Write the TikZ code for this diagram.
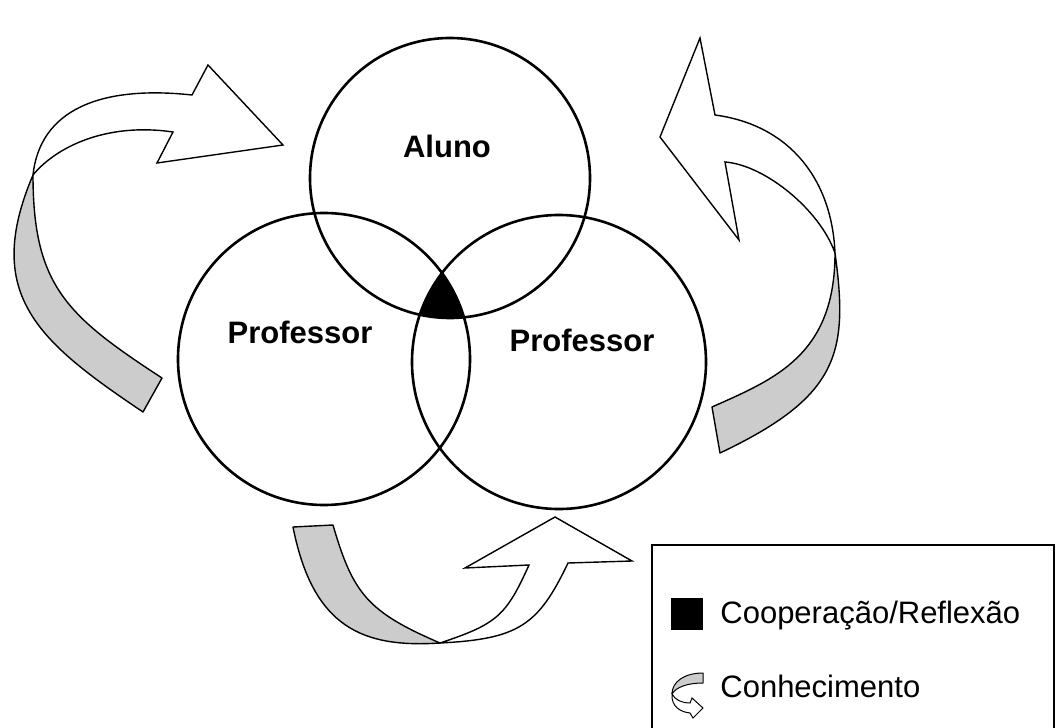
\documentclass[tikz,border=0pt]{standalone}
\usepackage{fontspec}
\setmainfont{Liberation Sans}
\usetikzlibrary{positioning}
\definecolor{bandgray}{RGB}{204,204,204}

\begin{document}
\begin{tikzpicture}[x=0.5pt, y=-0.5pt, font=\fontsize{15.5}{18}\selectfont,
    circ/.style={draw, circle, line width=1.3pt, inner sep=0pt},
    band/.style={draw, fill=bandgray, line width=0.7pt, line join=round},
    arrowbody/.style={draw, fill=white, line width=0.7pt},
    lbl/.style={anchor=base, font=\fontsize{15.5}{18}\selectfont\bfseries}]
        \useasboundingbox (0,0) rectangle (1056,728);

        \node[circ, minimum size=140pt] (aluno) at (450,178) {};
        \node[circ, minimum size=146pt] (profL) at (324,359) {};
        \node[circ, minimum size=147pt] (profR) at (559,362) {};

        \begin{scope}
            \clip (aluno.center) circle (70pt);
            \clip (profL.center) circle (73pt);
            \fill (profR.center) circle (73.5pt);
        \end{scope}

        \node[lbl] (tAluno) at (447,157) {Aluno};
        \node[lbl] (tProfL) at (300,343) {Professor};
        \node[lbl] (tProfR) at (582,351) {Professor};

        \draw[band] (33,175) .. controls (-18,295) and (39,342) .. (143,412) -- (162,378) .. controls (67,316) and (33,286) .. (33,175) -- cycle;
        \draw[arrowbody] (33,175) .. controls (40,110) and (100,85) .. (192,95) -- (208,65) -- (283,145) -- (157,163) -- (173,132) .. controls (105,122) and (55,148) .. (33,175) -- cycle;

        \draw[band] (835,253) .. controls (849,354) and (838,397) .. (720,453) -- (712,407) .. controls (775,379) and (835,355) .. (835,253) -- cycle;
        \draw[arrowbody] (835,253) .. controls (832,180) and (790,125) .. (715,115) -- (700,38) -- (660,137) -- (739,240) -- (725,162) .. controls (765,165) and (820,210) .. (835,253) -- cycle;

        \draw[band] (440,643) .. controls (363,648) and (313,628) .. (293,527) -- (333,525) .. controls (353,594) and (368,612) .. (440,643) -- cycle;
        \draw[arrowbody] (440,643) .. controls (518,639) and (538,626) .. (568,563) -- (632,561) -- (555,517) -- (465,568) -- (529,565) .. controls (506,616) and (497,624) .. (440,643) -- cycle;

        \node[draw, line width=0.7pt, minimum width=201pt, minimum height=97.5pt] (legend) at (853,642.5) {};
        \node[fill=black, minimum size=16pt, inner sep=0pt] (sqCoop) at (686.5,614) {};
        \node[anchor=base west, inner sep=0pt] (tCoop) at (720,623) {Cooperação/Reflexão};
        \node[anchor=base west, inner sep=0pt] (tConh) at (720,697) {Conhecimento};

        \draw[band, line width=0.5pt] (703,673) .. controls (684,673) and (672,682) .. (672,694) .. controls (676,687) and (688,683) .. (703,683) -- cycle;
        \draw[arrowbody, line width=0.5pt] (672,694) .. controls (671,706) and (680,712) .. (690,713) -- (693,718) -- (703,708) -- (692,698) -- (690,703) .. controls (682,703) and (675,700) .. (672,694) -- cycle;
    \end{tikzpicture}
\end{document}
